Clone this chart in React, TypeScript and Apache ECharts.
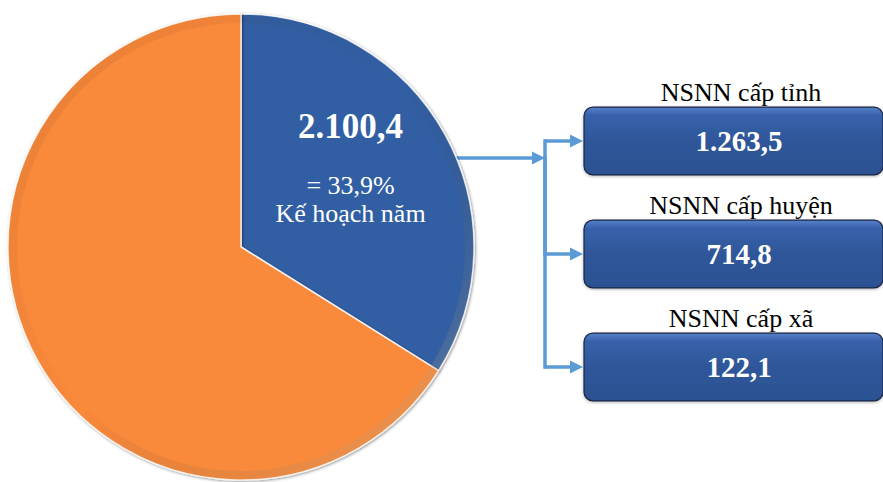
import React, { useEffect, useRef } from 'react';
import * as echarts from 'echarts';

// Thu ngân sách: số đã thực hiện so với kế hoạch năm
const achieved = 2100.4;
const planSharePct = 33.9;
const pieNames = ['Đã thực hiện', 'Còn lại theo kế hoạch'];
const pieColors = ['#335EA3', '#F9893B'];

// Phân theo cấp ngân sách
const levels = ['NSNN cấp tỉnh', 'NSNN cấp huyện', 'NSNN cấp xã'];
const levelValues = [1263.5, 714.8, 122.1];

const SERIF = '"Liberation Serif", "Times New Roman", serif';
const ARROW = '#5B9BD5';

// Vietnamese number style: "." for thousands, "," for decimals
function fmtVi(v: number, digits = 1): string {
  const [intPart, decPart] = v.toFixed(digits).split('.');
  const grouped = intPart.replace(/\B(?=(\d{3})+(?!\d))/g, '.');
  return decPart ? `${grouped},${decPart}` : grouped;
}

const PIE_CENTER: [number, number] = [241, 247];
const PIE_RADIUS = 233;
const TRUNK_X = 545;
const FEED_Y = 158;

export default function App() {
  const ref = useRef<HTMLDivElement>(null);

  useEffect(() => {
    if (!ref.current) return;
    const chart = echarts.init(ref.current, undefined, { renderer: 'svg' });

    const planTotal = achieved / (planSharePct / 100);
    const remaining = planTotal - achieved;

    // x where the feed line leaves the pie rim
    const dy = FEED_Y - PIE_CENTER[1];
    const rimX = PIE_CENTER[0] + Math.sqrt(PIE_RADIUS * PIE_RADIUS - dy * dy);

    const option: echarts.EChartsOption = {
      animation: false,
      backgroundColor: '#ffffff',
      grid: { left: 584, width: 310, top: 84.5, height: 339 },
      xAxis: { type: 'value', min: 0, max: 1, show: false },
      yAxis: { type: 'category', data: levels, inverse: true, show: false },
      graphic: [
        {
          type: 'line',
          silent: true,
          shape: { x1: rimX - 2, y1: FEED_Y, x2: TRUNK_X - 11, y2: FEED_Y },
          style: { stroke: ARROW, lineWidth: 3.5 },
        },
        {
          type: 'polygon',
          silent: true,
          shape: {
            points: [
              [TRUNK_X, FEED_Y],
              [TRUNK_X - 13, FEED_Y - 6.5],
              [TRUNK_X - 13, FEED_Y + 6.5],
            ],
          },
          style: { fill: ARROW },
        },
      ],
      series: [
        {
          type: 'pie',
          center: PIE_CENTER,
          radius: PIE_RADIUS,
          startAngle: 90,
          clockwise: true,
          silent: true,
          avoidLabelOverlap: false,
          labelLine: { show: false },
          itemStyle: {
            borderColor: 'rgba(255,255,255,0.8)',
            borderWidth: 1.5,
            shadowColor: 'rgba(0,0,0,0.45)',
            shadowBlur: 3,
            shadowOffsetX: 1,
            shadowOffsetY: 1,
          },
          data: [
            {
              name: pieNames[0],
              value: achieved,
              itemStyle: { color: pieColors[0] },
              label: {
                show: true,
                position: 'inside',
                offset: [5, -35],
                formatter: () =>
                  `{a|${fmtVi(achieved)}}\n{b|= ${fmtVi(planSharePct)}%}\n{b|Kế hoạch năm}`,
                rich: {
                  a: {
                    fontFamily: SERIF,
                    fontWeight: 'bold',
                    fontSize: 35,
                    color: '#ffffff',
                    lineHeight: 90,
                    align: 'center',
                  },
                  b: {
                    fontFamily: SERIF,
                    fontSize: 26,
                    color: '#ffffff',
                    lineHeight: 28,
                    align: 'center',
                  },
                },
              },
            },
            {
              name: pieNames[1],
              value: remaining,
              itemStyle: { color: pieColors[1] },
              label: { show: false },
            },
          ],
        },
        {
          // bevel rim: darker toward the upper left, lighter toward the lower right
          type: 'pie',
          center: PIE_CENTER,
          radius: [PIE_RADIUS - 9, PIE_RADIUS - 0.5],
          silent: true,
          label: { show: false },
          labelLine: { show: false },
          itemStyle: {
            color: new echarts.graphic.LinearGradient(0, 0, 1, 1, [
              { offset: 0, color: 'rgba(90,40,0,0.10)' },
              { offset: 0.5, color: 'rgba(0,0,0,0)' },
              { offset: 1, color: 'rgba(255,240,190,0.30)' },
            ]),
            borderWidth: 0,
          },
          data: [{ value: 1, name: '' }],
        },
        {
          type: 'custom',
          silent: true,
          data: levelValues.map((v, i) => [0, i, v]),
          encode: { x: 0, y: 1 },
          renderItem: (params: any, api: any) => {
            const idx = api.value(1) as number;
            const val = api.value(2) as number;
            const cy = api.coord([0, idx])[1];
            const band = api.size([0, 1])[1];
            const h = band * 0.6;
            const cs = params.coordSys;
            const top = cy - h / 2;
            const left = cs.x;
            const cx = left + 155;
            return {
              type: 'group',
              children: [
                {
                  type: 'line',
                  shape: {
                    x1: TRUNK_X,
                    y1: Math.min(cy, FEED_Y) - 1.75,
                    x2: TRUNK_X,
                    y2: Math.max(cy, FEED_Y) + 1.75,
                  },
                  style: { stroke: ARROW, lineWidth: 3.5 },
                },
                {
                  type: 'line',
                  shape: { x1: TRUNK_X, y1: cy, x2: left - 12, y2: cy },
                  style: { stroke: ARROW, lineWidth: 3.5 },
                },
                {
                  type: 'polygon',
                  shape: {
                    points: [
                      [left - 1, cy],
                      [left - 14, cy - 6.5],
                      [left - 14, cy + 6.5],
                    ],
                  },
                  style: { fill: ARROW },
                },
                {
                  type: 'rect',
                  shape: { x: left, y: top, width: cs.width, height: h, r: 9 },
                  style: {
                    fill: new echarts.graphic.LinearGradient(0, 0, 0, 1, [
                      { offset: 0, color: '#5680C8' },
                      { offset: 0.12, color: '#3862AB' },
                      { offset: 0.5, color: '#2F5699' },
                      { offset: 1, color: '#2C5192' },
                    ]),
                    stroke: '#1B2745',
                    lineWidth: 1.2,
                    shadowColor: 'rgba(0,0,0,0.3)',
                    shadowBlur: 3,
                    shadowOffsetY: 1,
                  },
                },
                {
                  type: 'text',
                  style: {
                    text: fmtVi(val),
                    x: cx,
                    y: cy,
                    align: 'center',
                    verticalAlign: 'middle',
                    fontFamily: SERIF,
                    fontWeight: 'bold',
                    fontSize: 29,
                    fill: '#ffffff',
                  },
                },
                {
                  type: 'text',
                  style: {
                    text: levels[idx],
                    x: cx + 2,
                    y: top - 2,
                    align: 'center',
                    verticalAlign: 'bottom',
                    fontFamily: SERIF,
                    fontSize: 26,
                    fill: '#000000',
                  },
                },
              ],
            };
          },
        },
      ],
    };

    chart.setOption(option);
    return () => chart.dispose();
  }, []);

  return (
    <div
      ref={ref}
      style={{ position: 'absolute', left: 0, top: 0, width: 883, height: 482 }}
    />
  );
}
